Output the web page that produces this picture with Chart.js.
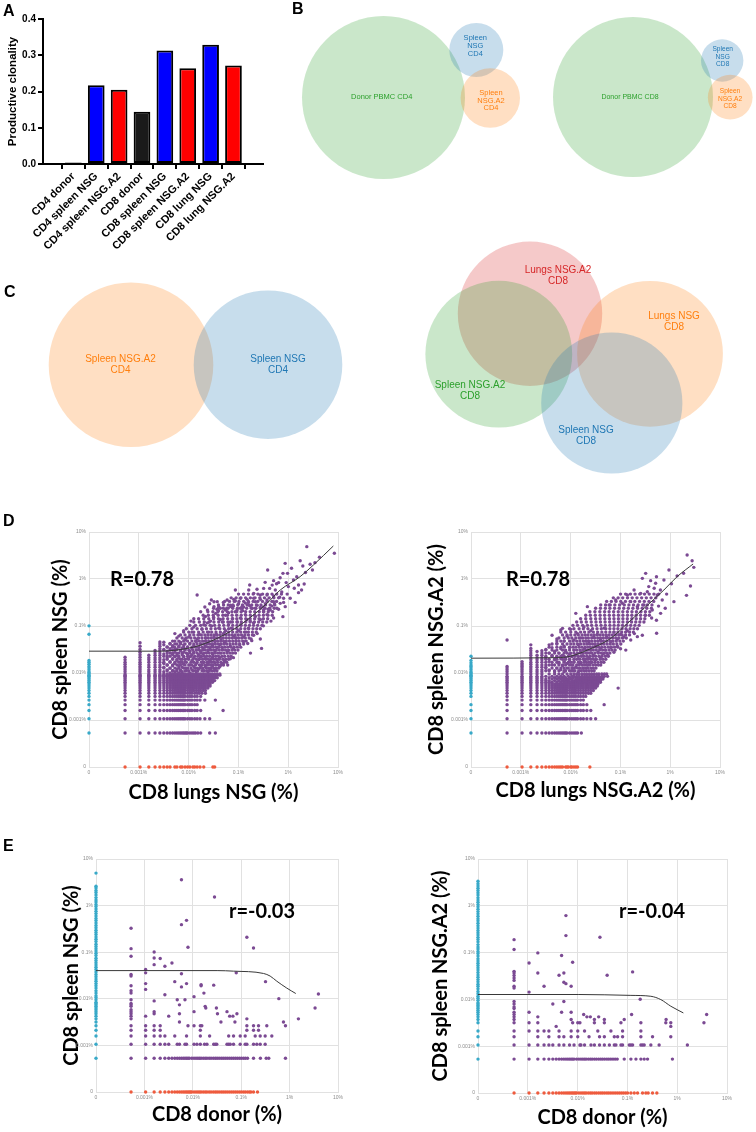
<!DOCTYPE html>
<html>
<head>
<meta charset="utf-8">
<script src="https://cdn.jsdelivr.net/npm/chart.js@4.4.1/dist/chart.umd.min.js"></script>
<style>
  body { margin: 0; background: #fff; }
  #page { position: relative; width: 756px; height: 1132px; overflow: hidden; background: #fff; }
  canvas { position: absolute; }
  .tag { position: absolute; font: bold 16px 'Liberation Sans', Arial, sans-serif; line-height: 16px; color: #000; }
</style>
</head>
<body>
<div id="page">
  <canvas id="barA" width="290" height="250" style="left:0;top:0"></canvas>
  <canvas id="vennB" width="466" height="200" style="left:290px;top:0"></canvas>
  <canvas id="vennC" width="756" height="260" style="left:0;top:240px"></canvas>
  <canvas id="dLeft" width="310" height="290" style="left:40px;top:520px"></canvas>
  <canvas id="dRight" width="310" height="290" style="left:420px;top:520px"></canvas>
  <canvas id="eLeft" width="300" height="284" style="left:50px;top:848px"></canvas>
  <canvas id="eRight" width="318" height="284" style="left:420px;top:848px"></canvas>
  <div class="tag" style="left:3px;top:3px">A</div>
  <div class="tag" style="left:292px;top:1px">B</div>
  <div class="tag" style="left:4px;top:284px">C</div>
  <div class="tag" style="left:3px;top:513px">D</div>
  <div class="tag" style="left:3px;top:838px">E</div>
</div>
<script>
// ---- A: productive clonality ----
const barCategories = ['CD4 donor', 'CD4 spleen NSG', 'CD4 spleen NSG.A2', 'CD8 donor',
  'CD8 spleen NSG', 'CD8 spleen NSG.A2', 'CD8 lung NSG', 'CD8 lung NSG.A2'];
const clonality = [0.004, 0.217, 0.205, 0.144, 0.313, 0.264, 0.329, 0.272];
const barColors = ['#1a1a1a', '#0000ff', '#ff0000', '#1a1a1a', '#0000ff', '#ff0000', '#0000ff', '#ff0000'];

// ---- B / C: Venn set sizes (circle area) ----
const vennB1Sets = [['Donor PBMC CD4'], ['Spleen', 'NSG', 'CD4'], ['Spleen', 'NSG.A2', 'CD4']];
const vennB1Sizes = [6640, 729, 882];
const vennB2Sets = [['Donor PBMC CD8'], ['Spleen', 'NSG', 'CD8'], ['Spleen', 'NSG.A2', 'CD8']];
const vennB2Sizes = [6400, 449, 500];
const vennC1Sets = [['Spleen NSG.A2', 'CD4'], ['Spleen NSG', 'CD4']];
const vennC1Sizes = [6773, 5520];
const vennC2Sets = [['Lungs NSG.A2', 'CD8'], ['Spleen NSG.A2', 'CD8'], ['Lungs NSG', 'CD8'], ['Spleen NSG', 'CD8']];
const vennC2Sizes = [5213, 5388, 5314, 4984];

// ---- D / E: clone frequencies, in read counts ----
const PCT_PER_READ = 0.00053;
const ZERO_AT = 0.0001;
const scatterTicks = [0.0001, 0.001, 0.01, 0.1, 1, 10];
const scatterTickLabels = ['0', '0.001%', '0.01%', '0.1%', '1%', '10%'];

// D left: CD8 lungs NSG (x) vs CD8 spleen NSG (y)
const dlR = 'R=0.78';
const dlSpleenOnly = [1,2,3,4,5,6,7,8,9,10,11,12,13,14,15,16,17,18,19,20,22,24,26,29,32,35,126,190];
const dlLungOnly = [1,2,3,4,5,6,7,8,10,11,13,14,16,18,20,23,25,28,32,38,58,63];
const dlRows = [
  [1, [1,2,3,4,5,6,7,8,9,10,11,12,13,14,15,16,17,18,20,22,24,26,29,33,50,65]],
  [2, [1,2,3,4,5,6,7,8,9,10,11,12,13,14,15,16,18,20,22,25,28,32,40,50]],
  [3, [1,2,3,4,5,6,7,8,9,10,11,12,13,14,15,16,18,20,22,25,28,33,93]],
  [4, [1,2,3,4,5,6,7,8,9,10,11,12,13,14,15,16,18,20,22,25,28]],
  [5, [1,2,3,4,5,6,7,8,9,10,11,12,13,14,15,16,18,20,22,25,28,32,40,65]],
  [6, [1,2,3,4,5,6,7,8,9,10,11,12,13,14,15,16,18,20,22,25,28,33]],
  [7, [1,2,3,4,5,6,7,8,9,10,11,12,13,14,15,16,18,20,22,25,28,31,35,41]],
  [8, [1,2,3,4,5,6,7,8,9,10,11,12,13,14,15,16,18,20,22,24,27,30,33,37,41]],
  [9, [1,2,3,4,5,6,7,8,9,10,11,12,13,14,15,16,18,20,22,24,27,30,33,37,41,46]],
  [10, [1,2,3,4,5,6,7,8,9,10,11,12,13,14,15,16,18,20,22,24,27,30,33,37,41,46,51]],
  [11, [1,2,3,4,5,6,7,8,9,10,11,12,13,14,15,16,18,20,22,24,27,30,33,37,41,46,51]],
  [12, [1,2,3,4,5,6,7,8,9,10,11,12,13,14,15,16,18,20,22,24,27,30,33,37,41,46,51,57]],
  [13, [1,2,3,4,5,6,7,8,9,10,11,12,13,14,15,16,18,20,22,24,27,30,33,37,41,46,51,57,63]],
  [14, [1,2,3,4,5,6,7,8,9,10,11,12,13,14,15,16,18,20,22,24,27,30,33,37,41,46,51,57]],
  [15, [1,2,3,4,5,6,7,8,9,10,11,12,13,14,15,16,18,20,22,24,27,30,33,37,41,46,51,57,64,71]],
  [16, [1,2,3,4,5,6,7,8,9,10,11,12,13,14,15,16,18,20,22,24,27,30,33,37,41,46,51,57,64]],
  [17, [1,2,3,4,5,6,7,8,9,10,11,12,13,14,15,16,18,20,22,24,27,30,33,37,41,46,51,57,64,71,80]],
  [18, [1,2,3,4,5,6,7,8,9,10,11,12,13,14,15,16,18,20,22,24,27,30,33,37,41,46,51,57,64,71,80]],
  // dense cloud, read row by row
  [21, [7,9,11,13,17,19,23,26,29,35,39,44,49,55,62,70]],
  [24, [6,8,10,12,15,17,21,25,28,32,36,43,48,53,60,68,76]],
  [28, [7,9,11,13,16,19,22,26,31,35,40,45,52,58,66,75,85,95]],
  [32, [6,8,10,12,14,17,21,24,28,34,38,44,49,55,62,72,84,98,110]],
  [37, [7,9,11,13,16,19,23,27,31,36,42,47,53,60,68,78,92,105,120]],
  [43, [6,8,10,12,15,18,21,25,29,34,39,44,50,58,66,75,88,100,118,135]],
  [50, [7,9,11,14,17,20,24,28,33,38,43,49,56,63,72,85,97,112,128,145,165]],
  [58, [6,8,10,13,16,19,23,27,31,36,41,47,53,60,68,78,90,104,120,140,160,185]],
  [67, [7,9,12,15,18,22,26,30,35,40,46,52,59,67,77,88,100,115,135,155,180,210]],
  [78, [8,10,13,16,20,24,28,33,38,44,50,57,65,74,85,97,110,128,148,170,200,240]],
  [90, [9,12,15,18,22,26,31,36,42,48,55,63,72,83,95,108,125,145,168,195,230,270]],
  [105, [11,14,17,21,25,30,35,41,47,54,62,71,82,94,108,124,143,165,190,220,260,310]],
  [122, [13,16,20,24,29,34,40,46,53,61,70,80,92,106,122,140,162,188,218,255,300,360]],
  [140, [15,19,24,30,37,45,55,67,82,100,120,145,175,210,250,300,360,430]],
  [165, [17,22,28,35,43,53,65,80,98,120,145,175,210,255,305,370,440,520]],
  [195, [20,26,33,41,51,63,78,96,118,145,176,214,260,315,380,460,560]],
  [230, [24,31,39,49,61,76,94,116,143,176,216,265,325,395,480,580,700]],
  [270, [30,38,48,60,75,93,115,142,175,215,265,325,400,490,600,730]],
  [320, [37,47,59,74,92,114,141,174,215,265,327,400,490,600,740,900]],
  [380, [46,58,73,91,113,140,173,214,264,326,402,495,610,750,920]],
  [450, [60,75,94,117,145,180,223,276,342,423,523,647,800,990]],
  [530, [75,95,118,147,183,228,283,350,433,536,663,820,1015]],
  [630, [100,125,156,194,241,300,373,463,575,714,887,1100]],
  [750, [135,170,212,264,328,408,507,630,783,973,1210]],
  [900, [190,240,300,374,465,578,718,893,1110,1380]]
];
const dlCols = [
  [1, [20,22,24,26,29,32,36,41]],
  [2, [20,22,24,26,29,32,36,41,46,52,60,70,83]],
  [3, [20,22,25,28,32,36,40,45]],
  [4, [20,22,25,28,32,36,40,45,50,57]],
  [5, [20,22,25,28,32,36,40,45,50,56,62,70,78,86]]
];
const dlCloud = [
  [6,20],[6,25],[6,30],[6,36],[7,22],[7,28],[7,40],[8,19],[8,24],[8,33],[9,21],[9,27],[9,38],[10,20],[10,30],[10,42],
  [11,23],[11,35],[12,19],[12,27],[12,40],[13,22],[13,32],[14,20],[14,25],[14,37],[15,29],[15,42],[16,21],[16,33],
  [18,24],[18,38],[20,19],[20,28],[20,42],[22,22],[22,34],[24,26],[24,40],[27,20],[27,30],[30,23],[30,36],[33,27],
  [33,41],[37,21],[37,32],[41,25],[41,38],[46,29],[46,20],[51,34],[51,23],[57,27],[57,40],[64,31],[64,22],[71,36],
  [80,26],[80,40],[90,30],[100,35],[115,28],[130,38],[150,40],
  [6,48],[6,60],[6,75],[6,85],[7,44],[7,55],[7,68],[8,50],[8,62],[8,80],[9,46],[9,58],[9,72],[10,52],[10,66],[10,90],
  [11,45],[11,60],[11,78],[12,50],[12,70],[13,56],[13,85],[14,46],[14,64],[15,52],[15,75],[16,60],[16,95],[18,48],
  [18,68],[20,55],[20,80],[22,46],[22,62],[24,72],[24,52],[27,58],[27,88],[30,46],[30,66],[33,54],[33,78],[37,48],
  [37,62],[41,70],[41,90],[46,52],[46,80],[51,60],[57,48],[57,72],[64,56],[64,88],[71,66],[80,50],[80,76],[90,60],
  [100,84],[115,55],[130,70],[150,62],[170,90],[200,75],[240,88],[290,80],[350,92],[550,63],[330,50],
  [10,130],[12,115],[15,150],[19,110],[24,180],[31,125],[38,200],[48,140],[61,110],[76,170],[94,130],[120,200],
  [152,115],[190,150],[240,110],[300,170],[383,120],[520,100],[16,100],[22,140],[28,100],[35,160],[42,105],[55,190],
  [68,125],[85,100],[105,150],[135,170],[170,105],[210,200],[270,140],[340,100],[450,130],[600,190],
  [21,240],[24,270],[33,380],[41,300],[52,240],[66,350],[82,260],[104,320],[131,230],[164,380],[207,280],[260,330],
  [326,240],[413,300],[520,260],[707,330],[961,280],[45,220],[60,290],[75,400],[90,230],[120,360],[145,270],[180,230],
  [230,400],[280,260],[380,220],[600,380],[850,240],
  [50,560],[61,620],[76,480],[94,600],[131,520],[164,640],[207,450],[260,580],[326,500],[413,620],[520,470],[655,560],
  [890,500],[1210,430],[1525,600],[40,480],[70,430],[110,450],[150,500],[190,560],[240,480],[300,600],[360,450],
  [450,520],[600,480],[750,430],[1000,560],
  [4460,9200],[15960,6640],[1640,4060],[3280,4630],[3710,3570],[5790,2930],[730,2930],[1480,2490],[1830,2490],
  [960,1740],[1210,1580],[1720,1580],[2410,1800],[3040,1410],[3950,1480],[318,1410],[446,1140],[606,1190],[800,1190],
  [1040,1100],[164,1100],[304,1100],[383,935],[28,863],[520,863],[707,863],[961,820],[1270,770],[1525,733],[2070,733],
  [3040,966],[54,675],[71,622],[112,675],[152,697],[207,733],[281,697],[383,733],[520,697],[707,675],[961,622],
  [1306,573],[1644,487],[45,413],[61,487],[82,449],[104,413],[131,487],[177,413],[223,487],[304,528],[413,449],
  [606,413],[824,413],[1119,449],[1476,298],
  [2500,1200],[1900,1300],[1100,1500],[2800,2100],[4200,2600],[6500,4200],[8000,5500],[5200,3900],[2200,3200],
  [1300,2000],[650,1600],[900,1400],[1400,1000],[1800,900],[2600,600],[3500,1100]
];
const dlFit = [[0,55],[5,55],[18,63],[33,74],[71,103],[152,160],[281,253],[707,573],[1306,1100],[3281,2120],[6061,3750],[15200,9500]];

// D right: CD8 lungs NSG.A2 (x) vs CD8 spleen NSG.A2 (y)
const drR = 'R=0.78';
const drSpleenOnly = [1,2,3,4,6,7,8,9,10,11,12,13,14,15,16,17,18,19,20,22,24,26,28,31,35,43];
const drLungOnly = [1,2,3,4,5,6,7,8,9,10,11,12,13,15,16,17,19,20,22,24,26,46];
const drRows = [
  [1, [1,2,3,4,5,6,7,8,9,10,11,12,13,14,15,16,18,20,22,24,26,31]],
  [2, [1,2,3,4,5,6,7,8,9,10,11,12,13,14,15,16,18,20,22,24,26,30,34,40,48,60]],
  [3, [1,2,3,4,5,6,7,8,9,10,11,12,13,14,15,16,18,20,22,24,26,30,34,40,48]],
  [4, [1,2,3,4,5,6,7,8,9,10,11,12,13,14,15,16,18,20,22,24,26,30,34,40,89]],
  [5, [1,2,3,4,5,6,7,8,9,10,11,12,13,14,15,16,18,20,22,24,26,30,34]],
  [6, [1,2,3,4,5,6,7,8,9,10,11,12,13,14,15,16,18,20,22,24,27,30,34,38]],
  [7, [1,2,3,4,5,6,7,8,9,10,11,12,13,14,15,16,18,20,22,24,27,30,34,38,43,48]],
  [8, [1,2,3,4,5,6,7,8,9,10,11,12,13,14,15,16,18,20,22,24,27,30,34,38,43,48,54]],
  [9, [1,2,3,4,5,6,7,8,9,10,11,12,13,14,15,16,18,20,22,24,27,30,34,38,43,48,54,60,170]],
  [10, [1,2,3,4,5,6,7,8,9,10,11,12,13,14,15,16,18,20,22,24,27,30,34,38,43,48,54,60,65]],
  [11, [1,2,3,4,5,6,7,8,9,10,11,12,13,14,15,16,18,20,22,24,27,30,34,38,43,48,54,60,67]],
  [12, [1,2,3,4,5,6,7,8,10,12,14,16,18,20,22,24,27,30,34,38,43,48,54,60,67,75]],
  [13, [1,2,3,4,5,6,7,9,11,13,15,17,20,22,24,27,30,34,38,43,48,54,60,67,75]],
  [14, [1,2,3,4,5,6,8,10,12,14,16,18,20,24,27,30,34,38,43,48,54,60,67,75,84]],
  [15, [1,2,3,4,5,7,9,11,13,15,18,21,24,27,30,34,38,43,48,54,60,67,75,84]],
  [16, [1,2,3,4,5,6,8,10,12,14,17,20,22,25,28,32,36,40,45,50,56,63,70,80,90,104]],
  [18, [1,2,3,4,5,7,9,11,13,16,19,22,25,28,32,36,40,45,50,56,63,70,80,90,100]],
  // dense cloud, read row by row
  [21, [6,7,9,11,14,15,18,21,23,28,31,35,39,44,50,56]],
  [24, [6,8,10,12,14,17,20,22,26,29,34,38,42,48,54,61]],
  [28, [6,7,9,11,13,15,18,21,25,28,32,36,42,46,53,60,68,76]],
  [32, [6,8,10,11,14,17,19,22,27,30,35,39,44,50,58,67,78,88]],
  [37, [6,7,9,10,13,15,18,22,25,29,34,38,42,48,54,62,74,84,96]],
  [43, [6,8,10,12,14,17,20,23,27,31,35,40,46,53,60,70,80,94,108]],
  [50, [6,7,9,11,14,16,19,22,26,30,34,39,45,50,58,68,78,90,102,116]],
  [58, [6,8,10,13,15,18,22,25,29,33,38,42,48,54,62,72,83,96,112,128,148]],
  [67, [7,10,12,14,18,21,24,28,32,37,42,47,54,62,70,80,92,108,124,144,168]],
  [78, [8,10,13,16,19,22,26,30,35,40,46,52,59,68,78,88,102,118,136,160,192]],
  [90, [10,12,14,18,21,25,29,34,38,44,50,58,66,76,86,100,116,134,156,184,216]],
  [105, [11,14,17,20,24,28,33,38,43,50,57,66,75,86,99,114,132,152,176,208,248]],
  [122, [13,16,19,23,27,32,37,42,49,56,64,74,85,98,112,130,150,174,204,240,288]],
  [140, [15,19,24,30,36,44,54,66,80,96,116,140,168,200,240,288,344]],
  [165, [18,22,28,34,42,52,64,78,96,116,140,168,204,244,296,352,416]],
  [195, [21,26,33,41,50,62,77,94,116,141,171,208,252,304,368,448]],
  [230, [25,31,39,49,61,75,93,115,141,173,212,260,316,384,464,560]],
  [270, [30,38,48,60,74,92,114,140,172,212,260,320,392,480,584]],
  [320, [38,47,59,74,91,113,139,172,212,262,320,392,480,592,720]],
  [380, [46,58,73,91,112,138,171,211,261,322,396,488,600,736]],
  [450, [60,75,94,116,144,178,220,272,336,418,518,640,792]],
  [530, [76,95,118,146,182,226,280,346,428,530,656,812]],
  [630, [100,124,154,192,238,296,368,458,570,708,880]],
  [750, [136,170,210,262,326,406,504,626,780,970]],
  [900, [190,240,300,372,462,576,716,890,1110]]
];
const drCols = [
  [1, [20,22,24,26,95]],
  [2, [20,22,24,26,28,30,33]],
  [3, [20,22,24,26,29,32,36,40,45,50,56,63,75]],
  [4, [20,22,25,28,32,36,40,45,54]],
  [5, [20,22,25,28,32,36,40,45,50,56]]
];
const drCloud = [
  [6,25],[6,40],[6,60],[7,22],[7,33],[7,50],[7,75],[8,28],[8,45],[8,65],[9,20],[9,36],[9,55],[10,24],[10,42],[10,80],
  [11,30],[11,50],[12,22],[12,38],[12,62],[13,27],[13,45],[14,20],[14,33],[14,70],[15,40],[15,55],[16,24],[16,30],
  [18,36],[18,48],[18,66],[20,21],[20,28],[20,42],[22,33],[22,58],[24,25],[24,46],[27,20],[27,38],[27,75],[30,30],
  [30,52],[33,24],[33,44],[36,36],[36,62],[40,28],[40,50],[44,40],[44,80],[48,32],[48,58],[54,45],[60,36],[60,70],
  [67,52],[75,40],[75,62],[85,48],[95,58],[105,45],[121,66],[140,52],[164,70],[190,62],[242,58],
  [8,120],[10,100],[12,140],[14,90],[16,115],[19,160],[22,95],[26,130],[30,105],[35,180],[40,90],[48,150],[55,110],
  [65,125],[75,95],[89,170],[100,110],[121,88],[140,140],[164,100],[190,125],[223,110],[260,150],[304,95],[360,130],
  [413,112],[520,120],[1007,132],
  [4130,6120],[5200,4630],[5620,3340],[1780,2930],[4820,1340],[4010,847],[2240,622],[607,2490],[521,1950],[764,1740],
  [962,1530],[1413,1800],[355,1100],[261,863],[482,935],[655,1014],[1038,863],[1306,675],[152,675],[112,528],
  [207,573],[304,622],[413,487],[562,528],[824,413],[1211,351],[41,487],[24,351],[12,155],[13,168],
  [900,1200],[1200,1100],[1600,900],[2000,1500],[2600,2200],[3500,2500],[1000,2100],[700,1300],[1100,500],[1500,450],
  [1000,250],[800,280],[600,320]
];
const drFit = [[0,39],[10,40],[19,43],[41,58],[121,103],[261,215],[562,449],[1410,1100],[2606,2120],[5445,3940]];

// E left: CD8 donor (x) vs CD8 spleen NSG (y)
const elR = 'r=-0.03';
const elSpleenOnly = [1,2,3,4,5,6,7,8,9,10,11,12,13,14,15,16,18,20,22,25,28,32,36,40,45,50,56,63,71,80,90,100,112,125,
  140,160,180,200,225,250,280,320,360,400,450,500,560,630,710,800,900,1000,1130,1270,1420,1600,1800,2000,2250,2500,
  2800,3200,3600,4000,4500,4900,9400];
const elDonorOnly = [1,2,3,4,5,6,7,8,9,10,11,12,13,14,15,16,17,18,20,22,24,26,28,31,34,37,41,45,50,55,60,66,73,80,88,
  97,107,118,130,143,157,173,190,210,230,255,280,300,339,410];
const elRows = [
  [1, [1,2,3,4,5,6,7,8,9,10,11,12,13,14,15,16,18,20,22,24,26,28,31,34,37,41,45,50,55,60,66,73,80,88,97,107,118,130,
    143,157,173,190,210,230,255,339,470,620,700,1550]],
  [2, [1,2,3,4,5,6,9,10,13,14,20,23,27,33,37,51,55,59,96,104,112,131,180,228,247,339,397,466,590]],
  [3, [1,2,3,4,5,8,14,27,42,104,131,180,228,367,466,590,810]],
  [4, [1,2,3,4,27,247,339,430]],
  [5, [1,2,3,4,15,20,27,29,247,339,430,638,1550]],
  [6, [10,72,140,1410]]
];
const elCloud = [
  [1,615],[1,225],[1,155],[1,63],[1,58],[1,36],[1,28],[1,25],[1,18],[1,15],[1,14],[1,13],[1,11],[1,10],[1,9],[1,8],[1,7],
  [2,80],[2,68],[2,40],[2,30],[2,8],[3,191],[3,142],[3,102],[3,17],[3,10],[3,9],[4,138],[5,94],[5,23],[6,8],[7,111],
  [8,44],[9,18],[10,14],[10,9],[11,736],[11,6770],[11,34],[11,65],[13,18],[14,40],[14,910],[15,241],[20,21],[20,10],
  [28,38],[28,36],[32,25],[34,13],[35,12],[51,37],[53,2880],[58,12],[61,9],[96,10],[109,8],[127,8],[149,68],[154,9],
  [247,394],[247,7],[339,233],[600,44],[1130,19],[2870,7],[6340,12],[7430,24]
];
const elFit = [[0,76],[60,76],[131,74],[546,66],[748,58],[1027,45],[1652,32],[2530,24.5]];

// E right: CD8 donor (x) vs CD8 spleen NSG.A2 (y)
const erR = 'r=-0.04';
const erSpleenOnly = [1,2,3,4,6,7,8,9,10,11,12,13,14,15,16,18,20,22,25,28,32,36,40,45,50,56,63,71,80,90,100,112,125,140,
  160,180,200,225,250,280,320,360,400,450,500,560,630,710,800,900,1000,1130,1270,1420,1600,1800,2000,2250,2500,2800,
  3200,3600,4000,4500,5000,5600,6300];
const erDonorOnly = [1,2,3,4,5,6,7,8,9,10,11,12,13,14,15,16,17,18,20,22,24,26,28,31,34,37,41,45,50,55,60,66,73,80,88,
  97,107,118,130,143,157,173,190,222,259,302,380,443,493,603,736];
const erRows = [
  [1, [1,2,3,4,5,6,7,8,9,10,11,12,13,14,15,16,18,20,22,24,26,28,31,34,37,41,45,50,55,60,66,73,80,88,97,107,118,163,
    222,280,352,410,479,1513]],
  [2, [1,2,3,4,5,6,8,10,13,16,21,22,26,35,41,52,65,82,103,111,140,151,206,222,240,352,380,410,558,818,3020]],
  [3, [1,3,5,8,10,14,19,32,52,65,103,120,151,352,603,1403]],
  [4, [1,2,3,4,5,8,14,19,26,48,88,151,352]],
  [6, [1,2,3,15,19,21,41,65,140,352,1114,1403,6500]]
];
const erCloud = [
  [1,357],[1,219],[1,75],[1,69],[1,61],[1,54],[1,48],[1,36],[1,33],[1,17],[1,15],[1,13],[1,12],[1,10],[1,9],[1,8],[1,7],
  [2,113],[2,27],[2,10],[3,186],[3,69],[3,8],[4,36],[6,15],[7,5],[8,62],[9,10],[9,163],[10,17],[10,69],[10,44],
  [11,1164],[11,435],[11,41],[14,36],[14,10],[15,117],[14,7],[25,9],[29,8],[34,8],[41,7],[50,8],[53,401],[65,7],
  [74,62],[163,7],[229,9],[240,73],[341,19],[1130,7],[1403,5],[7360,9]
];
const erFit = [[0,24],[20,24],[222,23],[558,22],[885,18.7],[1403,13.5],[2510,9.7]];

// ================= drawing =================
const SANS = "'Liberation Sans', Arial, sans-serif";
Chart.defaults.font.family = SANS;
Chart.defaults.animation = false;

// A: bar chart
new Chart(document.getElementById('barA'), {
  type: 'bar',
  data: {
    datasets: [{
      data: clonality.map((v, i) => ({x: i, y: v})),
      backgroundColor: barColors,
      borderColor: '#000',
      borderWidth: 2,
      borderSkipped: false,
      barPercentage: 0.73,
      categoryPercentage: 1
    }]
  },
  options: {
    responsive: false,
    events: [],
    layout: {padding: {left: 0, top: 19, right: 27, bottom: 0}},
    plugins: {legend: {display: false}, tooltip: {enabled: false}},
    scales: {
      x: {
        type: 'linear', min: -0.727, max: 7.69,
        afterBuildTicks: s => { s.ticks = barCategories.map((c, i) => ({value: i})); },
        afterFit: s => { s.height = 86; },
        ticks: {autoSkip: false, minRotation: 45, maxRotation: 45, padding: 1, color: '#000',
          font: {size: 11, weight: 'bold'}, callback: v => barCategories[v]},
        grid: {drawOnChartArea: false, color: '#000', lineWidth: 2, tickLength: 5},
        border: {color: '#000', width: 2}
      },
      y: {
        min: 0, max: 0.4,
        afterFit: s => { s.width = 43; },
        ticks: {stepSize: 0.1, padding: 2, color: '#000', font: {size: 10, weight: 'bold'},
          callback: v => v.toFixed(1)},
        grid: {drawOnChartArea: false, color: '#000', lineWidth: 2, tickLength: 5},
        border: {color: '#000', width: 2},
        title: {display: true, text: 'Productive clonality', color: '#000',
          font: {size: 11.5, weight: 'bold'}, padding: {top: 6, bottom: 0}}
      }
    }
  }
});

// B / C: Venn diagrams drawn through linear scales
function vennPlugin(diagrams) {
  return {
    id: 'venn',
    afterDatasetsDraw(chart) {
      const {ctx, scales: {x, y}} = chart;
      diagrams.forEach(dg => dg.sizes.forEach((size, i) => {
        const r = Math.sqrt(size);
        const [cx, cy] = dg.centers[i];
        const px = x.getPixelForValue(cx), py = y.getPixelForValue(cy);
        const rx = Math.abs(x.getPixelForValue(cx + r) - px);
        const ry = Math.abs(y.getPixelForValue(cy + r) - py);
        ctx.save();
        ctx.globalAlpha = 0.25;
        ctx.fillStyle = dg.colors[i];
        ctx.beginPath();
        ctx.ellipse(px, py, rx, ry, 0, 0, Math.PI * 2);
        ctx.fill();
        ctx.restore();
      }));
      diagrams.forEach(dg => dg.sets.forEach((lines, i) => {
        const [lx, ly] = dg.labelAt[i];
        const px = x.getPixelForValue(lx), py = y.getPixelForValue(ly);
        ctx.save();
        ctx.fillStyle = dg.colors[i];
        ctx.font = dg.fontSizes[i] + 'px ' + SANS;
        ctx.textAlign = 'center';
        ctx.textBaseline = 'middle';
        lines.forEach((t, k) => {
          ctx.fillText(t, px, py + (k - (lines.length - 1) / 2) * dg.lineHeight);
        });
        ctx.restore();
      }));
    }
  };
}

function vennChart(id, xMax, yMax, diagrams) {
  new Chart(document.getElementById(id), {
    type: 'scatter',
    data: {datasets: [{data: []}]},
    options: {
      responsive: false, events: [],
      layout: {padding: 0},
      plugins: {legend: {display: false}, tooltip: {enabled: false}},
      scales: {
        x: {type: 'linear', min: 0, max: xMax, display: false},
        y: {type: 'linear', min: 0, max: yMax, reverse: true, display: false}
      }
    },
    plugins: [vennPlugin(diagrams)]
  });
}

const GREEN = '#2ca02c', BLUE = '#1f77b4', ORANGE = '#ff7f0e', RED = '#d62728';

vennChart('vennB', 466, 200, [
  {sets: vennB1Sets, sizes: vennB1Sizes, colors: [GREEN, BLUE, ORANGE],
   centers: [[93.5, 97.5], [186.3, 50], [200.3, 98]],
   labelAt: [[91.7, 96.7], [185.3, 46], [201, 100.5]],
   fontSizes: [7.5, 7.5, 7.5], lineHeight: 7.6},
  {sets: vennB2Sets, sizes: vennB2Sizes, colors: [GREEN, BLUE, ORANGE],
   centers: [[343, 97], [432.2, 60.5], [440.2, 97.2]],
   labelAt: [[340, 96.7], [432.7, 56.7], [440, 99]],
   fontSizes: [7, 6.6, 6.6], lineHeight: 7.4}
]);

vennChart('vennC', 756, 260, [
  {sets: vennC1Sets, sizes: vennC1Sizes, colors: [ORANGE, BLUE],
   centers: [[131, 124.7], [268, 124.7]],
   labelAt: [[120.5, 124.7], [278, 124.7]],
   fontSizes: [10, 10], lineHeight: 11},
  {sets: vennC2Sets, sizes: vennC2Sizes, colors: [RED, GREEN, ORANGE, BLUE],
   centers: [[530, 73.7], [498.8, 114.2], [650, 113.8], [611.8, 163]],
   labelAt: [[558, 35.5], [470, 151.2], [674, 82], [586, 195.3]],
   fontSizes: [10, 10, 10, 10], lineHeight: 11}
]);

// D / E: log-log scatter panels
const pct = c => (c === 0 ? ZERO_AT : c * PCT_PER_READ);

function notePlugin(text, x, y) {
  return {
    id: 'note',
    afterDraw(chart) {
      const ctx = chart.ctx;
      ctx.save();
      ctx.font = 'bold 20px Lato';
      ctx.fillStyle = '#000';
      ctx.textAlign = 'center';
      ctx.textBaseline = 'middle';
      ctx.fillText(text, x, y);
      ctx.restore();
    }
  };
}

function scatterPanel(id, box, s) {
  const purple = [];
  s.rows.forEach(([y, xs]) => xs.forEach(x => purple.push({x: pct(x), y: pct(y)})));
  s.cols.forEach(([x, ys]) => ys.forEach(y => purple.push({x: pct(x), y: pct(y)})));
  s.cloud.forEach(([x, y]) => purple.push({x: pct(x), y: pct(y)}));
  const yOnly = s.yOnly.map(y => ({x: ZERO_AT, y: pct(y)}));
  const xOnly = s.xOnly.map(x => ({x: pct(x), y: ZERO_AT}));
  const fit = s.fit.map(([x, y]) => ({x: pct(x), y: pct(y)}));

  const axis = (title, pad, horizontal) => ({
    type: 'logarithmic', min: ZERO_AT, max: 10,
    afterBuildTicks: sc => { sc.ticks = scatterTicks.map(v => ({value: v})); },
    afterFit: sc => { if (horizontal) sc.height = box.axisH; else sc.width = box.axisW; },
    ticks: {autoSkip: false, maxRotation: 0, padding: 3, color: '#8c8c8c', font: {size: 5},
      callback: (v, i) => scatterTickLabels[i]},
    grid: {color: '#e1e1e1', lineWidth: 1, drawTicks: false},
    border: {color: '#e1e1e1'},
    title: {display: true, text: title, color: '#000',
      font: {family: 'Lato', weight: 'bold', size: 20}, padding: pad}
  });
  const dots = (data, color) => ({data, pointRadius: 1.7, pointBorderWidth: 0,
    pointBackgroundColor: color, showLine: false, clip: 4});

  new Chart(document.getElementById(id), {
    type: 'scatter',
    data: {
      datasets: [
        {data: fit, showLine: true, borderColor: '#383838', borderWidth: 1, pointRadius: 0,
         cubicInterpolationMode: 'monotone', clip: 4},
        dots(xOnly, '#ee5b3e'),
        dots(yOnly, '#38a9c8'),
        dots(purple, '#7b4a93')
      ]
    },
    options: {
      responsive: false, events: [],
      layout: {padding: {left: 0, top: box.padTop, right: box.padRight, bottom: 0}},
      plugins: {legend: {display: false}, tooltip: {enabled: false}},
      scales: {
        x: axis(s.xTitle, {top: 0, bottom: box.xTitlePad}, true),
        y: axis(s.yTitle, {top: box.yTitlePad, bottom: 0}, false)
      }
    },
    plugins: [notePlugin(s.note, box.noteX, box.noteY)]
  });
}

scatterPanel('dLeft',
  {axisW: 49, axisH: 43, padTop: 12, padRight: 12, xTitlePad: 5, yTitlePad: 9, noteX: 102, noteY: 60},
  {rows: dlRows, cols: dlCols, cloud: dlCloud, yOnly: dlSpleenOnly, xOnly: dlLungOnly, fit: dlFit,
   xTitle: 'CD8 lungs NSG (%)', yTitle: 'CD8 spleen NSG (%)', note: dlR});

scatterPanel('dRight',
  {axisW: 51, axisH: 43, padTop: 12, padRight: 10, xTitlePad: 7, yTitlePad: 5, noteX: 118, noteY: 60},
  {rows: drRows, cols: drCols, cloud: drCloud, yOnly: drSpleenOnly, xOnly: drLungOnly, fit: drFit,
   xTitle: 'CD8 lungs NSG.A2 (%)', yTitle: 'CD8 spleen NSG.A2 (%)', note: drR});

scatterPanel('eLeft',
  {axisW: 46, axisH: 40, padTop: 11, padRight: 12, xTitlePad: 5, yTitlePad: 10, noteX: 212, noteY: 64},
  {rows: elRows, cols: [], cloud: elCloud, yOnly: elSpleenOnly, xOnly: elDonorOnly, fit: elFit,
   xTitle: 'CD8 donor (%)', yTitle: 'CD8 spleen NSG (%)', note: elR});

scatterPanel('eRight',
  {axisW: 58, axisH: 39, padTop: 11, padRight: 11, xTitlePad: 2, yTitlePad: 9, noteX: 232, noteY: 64},
  {rows: erRows, cols: [], cloud: erCloud, yOnly: erSpleenOnly, xOnly: erDonorOnly, fit: erFit,
   xTitle: 'CD8 donor (%)', yTitle: 'CD8 spleen NSG.A2 (%)', note: erR});
</script>
</body>
</html>
